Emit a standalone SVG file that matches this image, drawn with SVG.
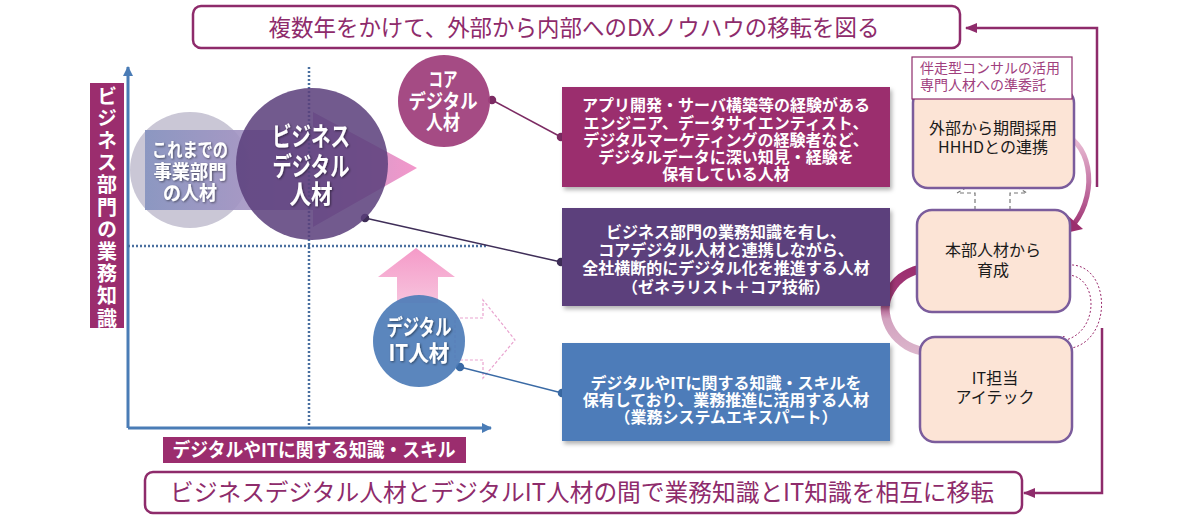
<svg xmlns="http://www.w3.org/2000/svg" width="1200" height="518" viewBox="0 0 1200 518">
<style>
text{font-family:"Noto Sans CJK JP","Noto Sans",sans-serif}
.w{fill:#fff;font-weight:bold}
.blk{fill:#1a1a1a;font-size:16px}
.banner{fill:#fff;stroke:#8e2b6b;stroke-width:2.5}
.bt{fill:#8e2b6b}
.peach{fill:#fce4d6;stroke:#7b5c9c;stroke-width:2.5}
.dot{stroke:#4a6f9f;stroke-width:2.5;stroke-dasharray:2 2;fill:none}
.axis{stroke:#4a7cb6;stroke-width:3;fill:none}
.conn{fill:none;stroke:#8e2b6b;stroke-width:2.5}
.dash{fill:none;stroke:#9b2d6e;stroke-width:1;stroke-dasharray:2 2}
</style>
<defs>
<marker id="ah" markerUnits="userSpaceOnUse" markerWidth="12" markerHeight="10" refX="11" refY="5" orient="auto"><path d="M0,0 L12,5 L0,10 z" fill="#8e2b6b"/></marker>
<marker id="axh" markerUnits="userSpaceOnUse" markerWidth="10" markerHeight="10" refX="9" refY="5" orient="auto"><path d="M0,0 L10,5 L0,10 z" fill="#4a7cb6"/></marker>
<filter id="sh" x="-10%" y="-10%" width="130%" height="130%"><feDropShadow dx="2" dy="3" stdDeviation="2" flood-opacity="0.3"/></filter>
<filter id="ts" x="-10%" y="-10%" width="130%" height="130%"><feDropShadow dx="1" dy="1" stdDeviation="1" flood-opacity="0.5"/></filter>
<linearGradient id="gArrow" gradientUnits="userSpaceOnUse" x1="145" y1="0" x2="417" y2="0"><stop offset="0" stop-color="#8592bf"/><stop offset="0.55" stop-color="#b194c4"/><stop offset="1" stop-color="#f28cc5"/></linearGradient>
<linearGradient id="gUp" x1="0" y1="0" x2="0" y2="1"><stop offset="0" stop-color="#f59ac8"/><stop offset="1" stop-color="#f7c3dd"/></linearGradient>
<linearGradient id="gA" gradientUnits="userSpaceOnUse" x1="0" y1="132" x2="0" y2="232"><stop offset="0" stop-color="#efc8dc"/><stop offset="0.5" stop-color="#c77aa8"/><stop offset="1" stop-color="#9b2d6e"/></linearGradient>
<linearGradient id="gB" gradientUnits="userSpaceOnUse" x1="0" y1="355" x2="0" y2="265"><stop offset="0" stop-color="#dcb6cc"/><stop offset="0.4" stop-color="#d2a2bf"/><stop offset="0.6" stop-color="#a33d7a"/><stop offset="1" stop-color="#9b2d6e"/></linearGradient>
</defs>
<rect width="1200" height="518" fill="#fff"/>

<!-- axes and grid -->
<g id="axes">
<rect x="90" y="83" width="34" height="245" fill="#9b2d6e"/>
<text class="w" font-size="20" x="107" y="86" style="writing-mode:vertical-rl" letter-spacing="2.2">ビジネス部門の業務知識</text>
<path class="axis" d="M128 428 V67" marker-end="url(#axh)"/>
<path class="axis" d="M128 428 H491" marker-end="url(#axh)"/>
<rect x="163" y="437" width="303" height="26" fill="#9b2d6e"/>
<text class="w" font-size="19" x="314" y="457" text-anchor="middle" textLength="283" lengthAdjust="spacingAndGlyphs">デジタルやITに関する知識・スキル</text>
</g>

<g id="former">
<ellipse cx="190" cy="170" rx="60" ry="58" fill="#cac7d6"/>
<polygon points="145,130 313,130 313,112 417,168 313,227 313,210 145,210" fill="url(#gArrow)" opacity="0.9"/>
<g filter="url(#ts)">
<text class="w" font-size="19" x="190" y="157" text-anchor="middle" textLength="76" lengthAdjust="spacingAndGlyphs">これまでの</text>
<text class="w" font-size="19" x="190" y="179" text-anchor="middle" textLength="73" lengthAdjust="spacingAndGlyphs">事業部門</text>
<text class="w" font-size="19" x="190" y="200" text-anchor="middle" textLength="54" lengthAdjust="spacingAndGlyphs">の人材</text>
</g>
</g>

<g id="grid">
<path class="dot" d="M309 67 V428"/>
<path class="dot" d="M128 246 H488"/>
</g>

<g id="up-arrow">
<polygon points="397,303 397,277 378,277 416,248 455,277 438,277 438,303" fill="url(#gUp)"/>
</g>
<g id="dashed-arrow">
<polygon points="455,318 483,318 483,300 515,340 483,378 483,360 455,360" fill="none" stroke="#e9a3cf" stroke-width="1.2" stroke-dasharray="3 2"/>
</g>

<!-- connectors -->
<g id="connectors">
<g fill="#7c2b63" stroke="#7c2b63" stroke-width="1.5"><line x1="492" y1="100" x2="561" y2="137"/><circle cx="492" cy="100" r="3.5"/><circle cx="561" cy="137" r="3.5"/></g>
<g fill="#3f2e58" stroke="#3f2e58" stroke-width="1.5"><line x1="365" y1="218" x2="561" y2="262"/><circle cx="365" cy="218" r="3.5"/><circle cx="561" cy="262" r="3.5"/></g>
<g fill="#3a6aa5" stroke="#3a6aa5" stroke-width="1.5"><line x1="460" y1="367" x2="562" y2="393"/><circle cx="460" cy="367" r="3.5"/><circle cx="562" cy="393" r="3.5"/></g>
<path class="conn" d="M1097 187 V28 H966" marker-end="url(#ah)"/>
<path class="conn" d="M1102 328 V493 H1024" marker-end="url(#ah)"/>
<path d="M1057 132 C1090 138 1100 190 1074 224" fill="none" stroke="url(#gA)" stroke-width="5"/>
<polygon points="1057,235 1066,214 1083,229" fill="#9b2d6e"/>
<path d="M930 352 C895 350 878 318 888 295 C895 280 905 273 920 269" fill="none" stroke="url(#gB)" stroke-width="9"/>
<polygon points="935,266 916,255 922,281" fill="#9b2d6e"/>
<path class="dash" d="M1058 265 H1068 V275 H1058 Z"/>
<path class="dash" d="M1068 265 C1110 262 1114 338 1072 348"/>
<path class="dash" d="M1068 275 C1098 276 1100 330 1066 340"/>
<polygon class="dash" points="1054,350 1064,336 1069,363"/>
<polygon points="993,172 1027,193 1010,193 1010,215 975,215 975,193 957,193" fill="none" stroke="#777" stroke-width="1.2" stroke-dasharray="4 3"/>
</g>

<g id="business-digital">
<circle cx="312" cy="164" r="76" fill="#5b3f7b" opacity="0.86"/>
<g filter="url(#ts)">
<text class="w" font-size="26" x="311" y="146" text-anchor="middle" textLength="78" lengthAdjust="spacingAndGlyphs">ビジネス</text>
<text class="w" font-size="26" x="311" y="176" text-anchor="middle" textLength="77" lengthAdjust="spacingAndGlyphs">デジタル</text>
<text class="w" font-size="26" x="311" y="204" text-anchor="middle" textLength="43" lengthAdjust="spacingAndGlyphs">人材</text>
</g>
</g>

<g id="core-digital">
<circle cx="444" cy="101" r="46" fill="#a0417d" opacity="0.95"/>
<text class="w" font-size="20" x="443" y="87" text-anchor="middle" textLength="29" lengthAdjust="spacingAndGlyphs">コア</text>
<text class="w" font-size="20" x="443" y="109" text-anchor="middle" textLength="69" lengthAdjust="spacingAndGlyphs">デジタル</text>
<text class="w" font-size="20" x="443" y="130" text-anchor="middle" textLength="34" lengthAdjust="spacingAndGlyphs">人材</text>
</g>

<g id="digital-it">
<circle cx="419" cy="341" r="46" fill="#4f7db8" opacity="0.93"/>
<g filter="url(#ts)">
<text class="w" font-size="22" x="419" y="335" text-anchor="middle" textLength="65" lengthAdjust="spacingAndGlyphs">デジタル</text>
<text class="w" font-size="22" x="419" y="361" text-anchor="middle" textLength="61" lengthAdjust="spacingAndGlyphs">IT人材</text>
</g>
</g>

<g id="box-core">
<rect x="562" y="87" width="328" height="100" fill="#9b2d6e" filter="url(#sh)"/>
<text class="w" font-size="16" text-anchor="middle"><tspan x="726" y="111">アプリ開発・サーバ構築等の経験がある</tspan><tspan x="726" y="129">エンジニア、データサイエンティスト、</tspan><tspan x="726" y="146">デジタルマーケティングの経験者など、</tspan><tspan x="726" y="163">デジタルデータに深い知見・経験を</tspan><tspan x="726" y="180">保有している人材</tspan></text>
</g>

<g id="box-business">
<rect x="562" y="208" width="328" height="98" fill="#5b3f7b" filter="url(#sh)"/>
<text class="w" font-size="16" text-anchor="middle"><tspan x="726" y="238">ビジネス部門の業務知識を有し、</tspan><tspan x="726" y="256">コアデジタル人材と連携しながら、</tspan><tspan x="726" y="274">全社横断的にデジタル化を推進する人材</tspan><tspan x="726" y="293">（ゼネラリスト＋コア技術）</tspan></text>
</g>

<g id="box-it">
<rect x="562" y="343" width="328" height="98" fill="#4d7cb9" filter="url(#sh)"/>
<text class="w" font-size="16" text-anchor="middle"><tspan x="726" y="389">デジタルやITに関する知識・スキルを</tspan><tspan x="726" y="406">保有しており、業務推進に活用する人材</tspan><tspan x="726" y="423">（業務システムエキスパート）</tspan></text>
</g>

<g id="external">
<rect class="peach" x="913" y="88" width="161" height="100" rx="15"/>
<rect x="912" y="57" width="160" height="42" fill="#fff" stroke="#8e2b6b" stroke-width="1.2"/>
<text font-size="14" fill="#a0407e"><tspan x="920" y="73">伴走型コンサルの活用</tspan><tspan x="920" y="90">専門人材への準委託</tspan></text>
<text class="blk" text-anchor="middle"><tspan x="993" y="134">外部から期間採用</tspan><tspan x="993" y="153">HHHDとの連携</tspan></text>
</g>

<g id="hq">
<rect class="peach" x="917" y="210" width="153" height="102" rx="15"/>
<text class="blk" text-anchor="middle"><tspan x="993" y="256">本部人材から</tspan><tspan x="993" y="276">育成</tspan></text>
</g>

<g id="itech">
<rect class="peach" x="920" y="337" width="152" height="105" rx="15"/>
<text class="blk" text-anchor="middle"><tspan x="995" y="384">IT担当</tspan><tspan x="995" y="403">アイテック</tspan></text>
</g>

<g id="top-banner">
<rect class="banner" x="193" y="6" width="767" height="42" rx="8"/>
<text class="bt" font-size="23" x="574" y="36" text-anchor="middle" textLength="611" lengthAdjust="spacingAndGlyphs">複数年をかけて、外部から内部へのDXノウハウの移転を図る</text>
</g>

<g id="bottom-banner">
<rect class="banner" x="145" y="472" width="877" height="41" rx="8"/>
<text class="bt" font-size="24" x="582" y="501" text-anchor="middle" textLength="824" lengthAdjust="spacingAndGlyphs">ビジネスデジタル人材とデジタルIT人材の間で業務知識とIT知識を相互に移転</text>
</g>
</svg>
